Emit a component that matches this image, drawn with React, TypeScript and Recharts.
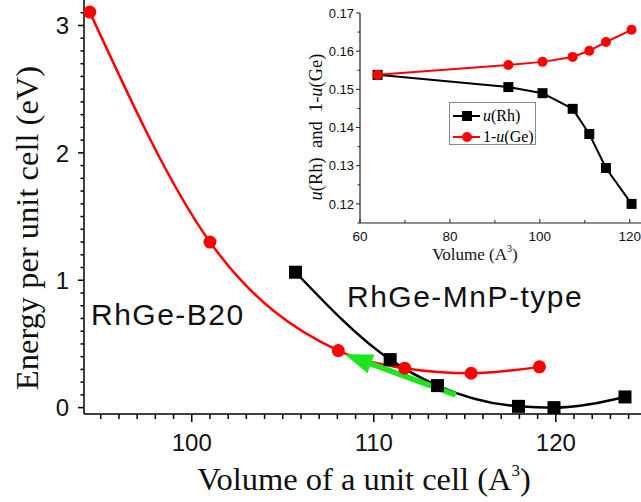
import React from 'react';
import { LineChart, Line, XAxis, YAxis, ReferenceLine, Legend } from 'recharts';

// ---------- Main chart data ----------
const b20Volume = [94.4, 101.0, 108.05, 111.7, 115.35, 119.1];
const b20Energy = [3.105, 1.3, 0.448, 0.31, 0.27, 0.32];
const mnpVolume = [105.7, 110.9, 113.5, 117.95, 119.9, 123.8];
const mnpEnergy = [1.063, 0.377, 0.173, 0.01, 0.0, 0.084];
const arrowFrom = { v: 114.5, e: 0.1 };
const arrowTo = { v: 108.4, e: 0.42 };

const mainXMajor = [100, 110, 120];
const mainYMajor = [0, 1, 2, 3];
const mainXMinorRange = [95, 124];
const mainYMinorRange = [0, 3.1];

// ---------- Inset data ----------
const insetVolume = [63.9, 93.0, 100.6, 107.3, 111.0, 114.7, 120.4];
const insetURh = [0.1538, 0.1506, 0.149, 0.1449, 0.1383, 0.1294, 0.12];
const insetOneMinusUGe = [0.1538, 0.1564, 0.1572, 0.1585, 0.1601, 0.1624, 0.1656];
const insetXTicks = [60, 70, 80, 90, 100, 110, 120];
const insetXMajor = [60, 80, 100, 120];
const insetYTicks = [0.115, 0.12, 0.125, 0.13, 0.135, 0.14, 0.145, 0.15, 0.155, 0.16, 0.165, 0.17];
const insetYMajor = [0.12, 0.13, 0.14, 0.15, 0.16, 0.17];

const b20Data = b20Volume.map((v, i) => ({ v, e: b20Energy[i] }));
const mnpData = mnpVolume.map((v, i) => ({ v, e: mnpEnergy[i] }));
const rhData = insetVolume.map((v, i) => ({ v, u: insetURh[i] }));
const geData = insetVolume.map((v, i) => ({ v, u: insetOneMinusUGe[i] }));

const range = (a: number, b: number, step: number) => {
  const out: number[] = [];
  const n = Math.round((b - a) / step);
  for (let i = 0; i <= n; i++) out.push(Math.round((a + i * step) * 1000) / 1000);
  return out;
};
const mainXTicks = range(mainXMinorRange[0], mainXMinorRange[1], 1);
const mainYTicks = range(mainYMinorRange[0], mainYMinorRange[1], 0.1);

const SANS = "'Liberation Sans', Arial, sans-serif";
const SERIF = "'Liberation Serif', 'Times New Roman', serif";
const RED = '#ff0000';
const GREEN = '#1ee61e';

const isMajor = (arr: number[], v: number) => arr.some((m) => Math.abs(m - v) < 1e-6);

const MainXTick = (p: any) => {
  const major = isMajor(mainXMajor, p.payload.value);
  return (
    <g>
      <line x1={p.x} y1={p.y} x2={p.x} y2={p.y + (major ? 8 : 5)} stroke="#000" strokeWidth={1.5} />
      {major && (
        <text x={p.x} y={p.y + 37} textAnchor="middle" fontFamily={SANS} fontSize={24} fill="#111">
          {p.payload.value}
        </text>
      )}
    </g>
  );
};

const MainYTick = (p: any) => {
  const major = isMajor(mainYMajor, p.payload.value);
  return (
    <g>
      <line x1={p.x} y1={p.y} x2={p.x - (major ? 6 : 3.5)} y2={p.y} stroke="#000" strokeWidth={1.5} />
      {major && (
        <text x={p.x - 15} y={p.y} dy="0.36em" textAnchor="end" fontFamily={SANS} fontSize={24} fill="#111">
          {p.payload.value}
        </text>
      )}
    </g>
  );
};

const InsetXTick = (p: any) => {
  const major = isMajor(insetXMajor, p.payload.value);
  return (
    <g>
      <line x1={p.x} y1={p.y} x2={p.x} y2={p.y - (major ? 4 : 3)} stroke="#222" strokeWidth={1} />
      {major && (
        <text x={p.x} y={p.y + 18} textAnchor="middle" fontFamily={SANS} fontSize={13.5} fill="#111">
          {p.payload.value}
        </text>
      )}
    </g>
  );
};

const InsetYTick = (p: any) => {
  const major = isMajor(insetYMajor, p.payload.value);
  return (
    <g>
      <line x1={p.x} y1={p.y} x2={p.x - (major ? 4 : 2.5)} y2={p.y} stroke="#222" strokeWidth={1} />
      {major && (
        <text x={p.x - 6} y={p.y} dy="0.36em" textAnchor="end" fontFamily={SANS} fontSize={13} fill="#111">
          {p.payload.value.toFixed(2)}
        </text>
      )}
    </g>
  );
};

const squareDot = (size: number) => (p: any) => (
  <rect key={`sq-${p.index}`} x={p.cx - size / 2} y={p.cy - size / 2} width={size} height={size} fill="#000" />
);

const ArrowShape = (p: any) => {
  const { x1, y1, x2, y2 } = p;
  const dx = x2 - x1;
  const dy = y2 - y1;
  const len = Math.sqrt(dx * dx + dy * dy) || 1;
  const ux = dx / len;
  const uy = dy / len;
  const L = 28;
  const hw = 10;
  const bx = x2 - ux * L;
  const by = y2 - uy * L;
  const pts = `${x2},${y2} ${bx - uy * hw},${by + ux * hw} ${bx + uy * hw},${by - ux * hw}`;
  return (
    <g>
      <line x1={x1} y1={y1} x2={bx + ux * 2} y2={by + uy * 2} stroke={GREEN} strokeWidth={5.5} />
      <polygon points={pts} fill={GREEN} />
    </g>
  );
};

const InsetLegend = () => (
  <div
    style={{
      width: 87,
      height: 43,
      boxSizing: 'border-box',
      border: '1px solid #888',
      background: '#fff',
    }}
  >
    <svg width={85} height={41} style={{ display: 'block' }}>
      <line x1={3} y1={13} x2={30} y2={13} stroke="#000" strokeWidth={2} />
      <rect x={12} y={8} width={10} height={10} fill="#000" />
      <text x={33} y={18} fontFamily={SERIF} fontSize={16} fill="#000">
        <tspan fontStyle="italic">u</tspan>(Rh)
      </text>
      <line x1={3} y1={34} x2={30} y2={34} stroke={RED} strokeWidth={2} />
      <circle cx={17} cy={34} r={5} fill={RED} />
      <text x={33} y={39} fontFamily={SERIF} fontSize={16} fill="#000">
        1-<tspan fontStyle="italic">u</tspan>(Ge)
      </text>
    </svg>
  </div>
);

export default function App() {
  return (
    <div style={{ position: 'absolute', left: 0, top: 0, width: 641, height: 502, background: '#fff', overflow: 'hidden' }}>
      <div style={{ position: 'absolute', left: 0, top: 0 }}>
        <LineChart width={641} height={502} margin={{ top: 0, right: 0, bottom: 0, left: 0 }}>
          <XAxis
            type="number"
            dataKey="v"
            domain={[94.08, 124.68]}
            allowDataOverflow
            ticks={mainXTicks}
            interval={0}
            tick={(p: any) => <MainXTick {...p} />}
            tickLine={false}
            tickSize={0}
            tickMargin={0}
            height={88}
            axisLine={{ stroke: '#000', strokeWidth: 1.5 }}
          />
          <YAxis
            type="number"
            dataKey="e"
            domain={[-0.05, 3.2]}
            allowDataOverflow
            ticks={mainYTicks}
            interval={0}
            tick={(p: any) => <MainYTick {...p} />}
            tickLine={false}
            tickSize={0}
            tickMargin={0}
            width={84}
            axisLine={{ stroke: '#000', strokeWidth: 1.5 }}
          />
          <Line
            data={b20Data}
            dataKey="e"
            type="monotoneX"
            stroke={RED}
            strokeWidth={2.5}
            dot={{ r: 6.5, fill: RED, stroke: RED, strokeWidth: 0 }}
            isAnimationActive={false}
          />
          <Line
            data={mnpData}
            dataKey="e"
            type="monotoneX"
            stroke="#000"
            strokeWidth={2.5}
            dot={squareDot(13)}
            isAnimationActive={false}
          />
          <ReferenceLine
            segment={[
              { x: arrowFrom.v, y: arrowFrom.e },
              { x: arrowTo.v, y: arrowTo.e },
            ]}
            ifOverflow="visible"
            shape={(p: any) => <ArrowShape {...p} />}
          />
        </LineChart>
      </div>

      <div style={{ position: 'absolute', left: 0, top: 0 }}>
        <LineChart width={641} height={270} margin={{ top: 13, right: 0, bottom: 0, left: 0 }}>
          <XAxis
            type="number"
            dataKey="v"
            domain={[60, 122.5]}
            allowDataOverflow
            ticks={insetXTicks}
            interval={0}
            tick={(p: any) => <InsetXTick {...p} />}
            tickLine={false}
            tickSize={0}
            tickMargin={0}
            height={47}
            axisLine={{ stroke: '#222', strokeWidth: 1.2 }}
          />
          <YAxis
            type="number"
            domain={[0.115, 0.17]}
            allowDataOverflow
            ticks={insetYTicks}
            interval={0}
            tick={(p: any) => <InsetYTick {...p} />}
            tickLine={false}
            tickSize={0}
            tickMargin={0}
            width={360}
            axisLine={{ stroke: '#222', strokeWidth: 1.2 }}
          />
          <Legend
            layout="vertical"
            align="center"
            verticalAlign="middle"
            content={() => <InsetLegend />}
            wrapperStyle={{ left: 449, top: 102, width: 87, height: 43 }}
          />
          <Line
            data={rhData}
            dataKey="u"
            name="u(Rh)"
            type="linear"
            stroke="#000"
            strokeWidth={2}
            dot={squareDot(10)}
            isAnimationActive={false}
          />
          <Line
            data={geData}
            dataKey="u"
            name="1-u(Ge)"
            type="linear"
            stroke={RED}
            strokeWidth={2}
            dot={{ r: 5, fill: RED, stroke: RED, strokeWidth: 0 }}
            isAnimationActive={false}
          />
        </LineChart>
      </div>

      <svg width={641} height={502} style={{ position: 'absolute', left: 0, top: 0, pointerEvents: 'none' }}>
        <text transform="translate(38,228) rotate(-90)" textAnchor="middle" fontFamily={SERIF} fontSize={32.5} fill="#111">
          Energy per unit cell (eV)
        </text>
        <text x={364} y={490} textAnchor="middle" fontFamily={SERIF} fontSize={32.5} fill="#111">
          Volume of a unit cell (A<tspan dy={-14} fontSize={17}>3</tspan>
          <tspan dy={14}>)</tspan>
        </text>
        <text x={91} y={325} fontFamily={SANS} fontSize={30} letterSpacing={1.5} fill="#111">
          RhGe-B20
        </text>
        <text x={347} y={307} fontFamily={SANS} fontSize={30} letterSpacing={1.5} fill="#111">
          RhGe-MnP-type
        </text>
        <text x={475} y={260} textAnchor="middle" fontFamily={SERIF} fontSize={17} fill="#111">
          Volume (A<tspan dy={-8} fontSize={10}>3</tspan>
          <tspan dy={8}>)</tspan>
        </text>
        <text transform="translate(322,127) rotate(-90)" textAnchor="middle" fontFamily={SERIF} fontSize={18.5} fill="#111">
          <tspan fontStyle="italic">u</tspan>(Rh)
          {'\u00a0\u00a0'}and{'\u00a0\u00a0'}1-<tspan fontStyle="italic">u</tspan>(Ge)
        </text>
      </svg>
    </div>
  );
}
